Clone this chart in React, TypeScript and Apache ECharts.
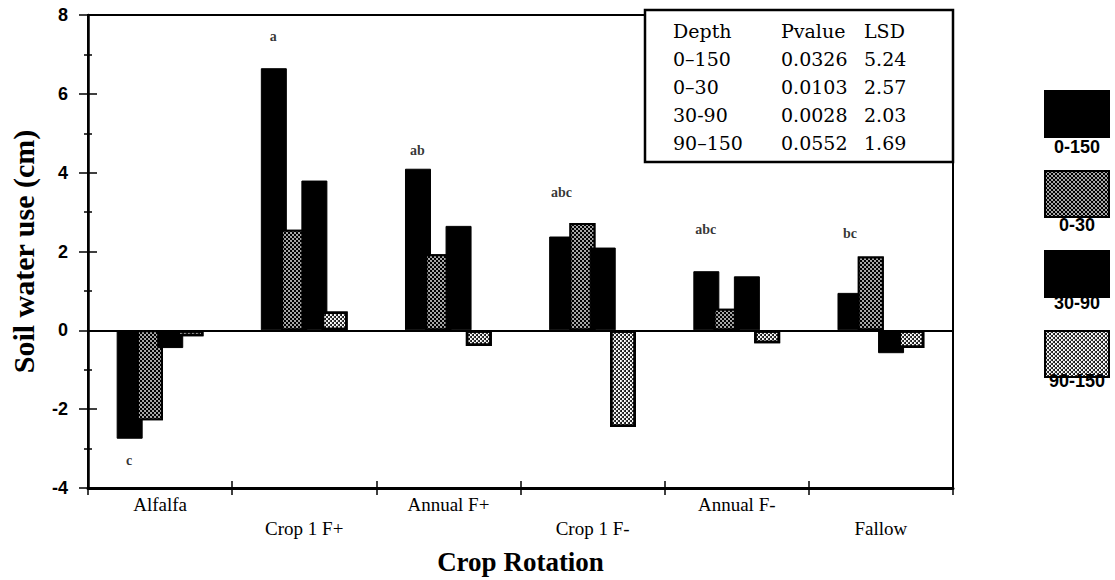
import React, { useEffect, useRef } from 'react';
import * as echarts from 'echarts';

// Crop rotations on the category axis
const categories = ['Alfalfa', 'Crop 1 F+', 'Annual F+', 'Crop 1 F-', 'Annual F-', 'Fallow'];

// Soil depth layers (cm) shown as series
const depthNames = ['0-150', '0-30', '30-90', '90-150'];

// Soil water use (cm) per rotation and depth layer
const use0to150 = [-2.75, 6.65, 4.1, 2.38, 1.5, 0.95];
const use0to30 = [-2.28, 2.55, 1.93, 2.72, 0.55, 1.87];
const use30to90 = [-0.45, 3.8, 2.65, 2.1, 1.37, -0.58];
const use90to150 = [-0.15, 0.48, -0.4, -2.45, -0.33, -0.45];

// Mean separation letters (0-150 layer) and the height they sit at
const groupLetters = ['c', 'a', 'ab', 'abc', 'abc', 'bc'];
const letterHeights = [-3.3, 7.45, 4.57, 3.49, 2.55, 2.45];

// Value axis range
const yMin = -4;
const yMax = 8;
const yStep = 2;

// Statistics table
const tableHeader = ['Depth', 'Pvalue', 'LSD'];
const tableDepth = ['0\u2013150', '0\u201330', '30-90', '90\u2013150'];
const tablePvalue = ['0.0326', '0.0103', '0.0028', '0.0552'];
const tableLSD = ['5.24', '2.57', '2.03', '1.69'];

const serif = 'Liberation Serif, Times New Roman, serif';
const sans = 'Liberation Sans, Arial, sans-serif';

// Dotted fills for the two patterned layers
const darkDots = {
  symbol: 'circle',
  symbolSize: 0.8,
  color: '#ffffff',
  dashArrayX: [[2, 2], [0, 2, 2, 0]],
  dashArrayY: [2, 0],
};
const lightDots = {
  symbol: 'circle',
  symbolSize: 1,
  color: '#000000',
  dashArrayX: [[2, 2], [0, 2, 2, 0]],
  dashArrayY: [2, 0],
};

const seriesStyles = [
  { color: '#000000', borderColor: '#000000', borderWidth: 1 },
  { color: '#000000', borderColor: '#000000', borderWidth: 2, decal: darkDots },
  { color: '#000000', borderColor: '#000000', borderWidth: 1 },
  { color: '#ffffff', borderColor: '#000000', borderWidth: 2.5, decal: lightDots },
];
const seriesValues = [use0to150, use0to30, use30to90, use90to150];

// Layout of the legend swatches on the right
const legendLeft = 1044;
const legendTop = 90;
const swatchW = 64;
const swatchH = 46;
const swatchGap = 32;

// Layout of the statistics table
const tableBox = { x: 645, y: 10, w: 308, h: 152 };
const tableColX = [673, 781, 864];
const tableRowY0 = 31;
const tableRowStep = 28;

export default function App() {
  const ref = useRef<HTMLDivElement>(null);

  useEffect(() => {
    if (!ref.current) return;
    const chart = echarts.init(ref.current, undefined, { renderer: 'svg' });

    const tableTexts: any[] = [];
    const rows = [tableHeader].concat(
      tableDepth.map((d, i) => [d, tablePvalue[i], tableLSD[i]])
    );
    rows.forEach((row, r) => {
      row.forEach((cell, c) => {
        tableTexts.push({
          type: 'text',
          x: tableColX[c],
          y: tableRowY0 + r * tableRowStep,
          style: {
            text: cell,
            fill: '#000',
            font: `19px 'DejaVu Serif', serif`,
            textAlign: 'left',
            textVerticalAlign: 'middle',
          },
        });
      });
    });

    const legendTexts = depthNames.map((name, i) => ({
      type: 'text',
      x: legendLeft + swatchW / 2 + 1,
      y: legendTop + i * (swatchH + swatchGap) + swatchH + 11,
      style: {
        text: name,
        fill: '#000',
        font: `bold 18px ${sans}`,
        textAlign: 'center',
        textVerticalAlign: 'middle',
      },
    }));

    const barSeries = depthNames.map((name, i) => ({
      name,
      type: 'bar',
      data: seriesValues[i],
      barWidth: 26,
      barGap: '-22%',
      itemStyle: seriesStyles[i],
      emphasis: { disabled: true },
      z: 3 + i,
      markLine:
        i === 0
          ? {
              silent: true,
              symbol: 'none',
              label: { show: false },
              lineStyle: { color: '#000', width: 2, type: 'solid' },
              data: [{ yAxis: 0 }],
            }
          : undefined,
    }));

    const tickStyle = { color: '#000', width: 1.5 };

    const option: any = {
      animation: false,
      backgroundColor: '#ffffff',
      grid: {
        left: 87,
        right: 162,
        top: 15,
        bottom: 90,
        show: true,
        borderColor: '#000',
        borderWidth: 2,
        backgroundColor: 'transparent',
      },
      legend: {
        data: depthNames,
        orient: 'vertical',
        left: legendLeft,
        top: legendTop,
        itemWidth: swatchW,
        itemHeight: swatchH,
        itemGap: swatchGap,
        padding: 0,
        icon: 'rect',
        selectedMode: false,
        formatter: () => '',
        textStyle: { fontSize: 1 },
      },
      xAxis: [
        {
          type: 'category',
          data: categories,
          position: 'bottom',
          axisLine: { onZero: false, lineStyle: { color: '#000', width: 3 } },
          axisTick: { show: true, interval: 0, length: 7, lineStyle: tickStyle },
          axisLabel: {
            interval: 0,
            margin: 4,
            fontFamily: serif,
            fontSize: 19,
            color: '#000',
            lineHeight: 24,
            formatter: (v: string, i: number) => (i % 2 ? '\n' + v : v),
          },
          splitLine: { show: false },
          name: 'Crop Rotation',
          nameLocation: 'middle',
          nameGap: 60,
          nameTextStyle: { fontFamily: serif, fontWeight: 'bold', fontSize: 27, color: '#000' },
        },
        {
          type: 'category',
          data: categories,
          position: 'bottom',
          axisLine: { show: false, onZero: false },
          axisTick: { show: true, inside: true, interval: 0, length: 7, lineStyle: tickStyle },
          axisLabel: { show: false },
          splitLine: { show: false },
        },
      ],
      yAxis: [
        {
          type: 'value',
          min: yMin,
          max: yMax,
          interval: yStep,
          position: 'left',
          axisLine: { show: true, onZero: false, lineStyle: { color: '#000', width: 2.5 } },
          axisTick: { show: true, length: 9, lineStyle: tickStyle },
          minorTick: { show: true, splitNumber: 2, length: 4, lineStyle: tickStyle },
          splitLine: { show: false },
          minorSplitLine: { show: false },
          axisLabel: {
            margin: 20,
            fontFamily: sans,
            fontWeight: 'bold',
            fontSize: 18,
            color: '#000',
          },
          name: 'Soil water use (cm)',
          nameLocation: 'middle',
          nameGap: 50,
          nameTextStyle: { fontFamily: serif, fontWeight: 'bold', fontSize: 30, color: '#000' },
        },
        {
          type: 'value',
          min: yMin,
          max: yMax,
          interval: yStep,
          position: 'left',
          axisLine: { show: false, onZero: false },
          axisTick: { show: true, inside: true, length: 9, lineStyle: tickStyle },
          minorTick: { show: true, splitNumber: 2, length: 4, lineStyle: tickStyle },
          splitLine: { show: false },
          minorSplitLine: { show: false },
          axisLabel: { show: false },
        },
      ],
      series: [
        ...barSeries,
        {
          type: 'scatter',
          data: letterHeights,
          symbolSize: 1,
          itemStyle: { color: 'rgba(0,0,0,0)' },
          silent: true,
          z: 10,
          label: {
            show: true,
            position: 'inside',
            offset: [-31, 0],
            formatter: (p: any) => groupLetters[p.dataIndex],
            fontFamily: serif,
            fontWeight: 'bold',
            fontSize: 14,
            color: '#000',
          },
        },
      ],
      graphic: [
        {
          type: 'rect',
          z: 100,
          shape: { x: tableBox.x, y: tableBox.y, width: tableBox.w, height: tableBox.h },
          style: { fill: '#fff', stroke: '#000', lineWidth: 2.5 },
        },
        ...tableTexts.map((t) => ({ ...t, z: 101 })),
        ...legendTexts.map((t) => ({ ...t, z: 101 })),
      ],
    };

    chart.setOption(option);
    return () => chart.dispose();
  }, []);

  return <div ref={ref} style={{ width: 1115, height: 580, position: 'absolute', left: 0, top: 0 }} />;
}
